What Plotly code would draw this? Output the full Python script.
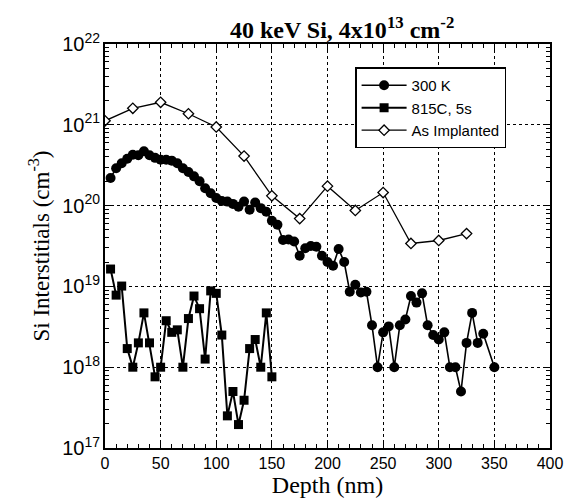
import plotly.graph_objects as go

# As Implanted (diamonds)
impl_depth = [0, 25, 50, 75, 100, 125, 150, 175, 200, 225, 250, 275, 300, 325]
impl_conc = [1.12e21, 1.6e21, 1.9e21, 1.37e21, 9.4e20, 4.1e20, 1.32e20, 6.9e19,
             1.74e20, 8.7e19, 1.45e20, 3.4e19, 3.7e19, 4.5e19]

# 300 K (circles)
k300_depth = [5, 10, 15, 20, 25, 30, 35, 40, 45, 50, 55, 60, 65, 70, 75, 80, 85, 90, 95, 100,
              105, 110, 115, 120, 125, 130, 135, 140, 145, 150, 155, 160, 165, 170, 175, 180,
              185, 190, 195, 200, 205, 210, 215, 220, 225, 230, 235, 240, 245, 250, 255, 260,
              265, 270, 275, 280, 285, 290, 295, 300, 305, 310, 315, 320, 325, 330, 335, 340, 350]
k300_conc = [2.2e20, 2.9e20, 3.35e20, 3.8e20, 4.25e20, 4.2e20, 4.7e20, 4.2e20, 3.9e20, 3.7e20,
             3.7e20, 3.6e20, 3.35e20, 2.9e20, 2.6e20, 2.3e20, 2.0e20, 1.64e20, 1.42e20, 1.24e20,
             1.14e20, 1.12e20, 1.05e20, 9.7e19, 1.12e20, 8.9e19, 1.09e20, 9.3e19, 8.4e19, 6.5e19,
             5.8e19, 3.76e19, 3.8e19, 3.6e19, 2.4e19, 2.97e19, 3.16e19, 3.1e19, 2.4e19, 2.0e19,
             1.8e19, 2.9e19, 2.0e19, 8.6e18, 1.05e19, 8.4e18, 8.6e18, 3.3e18, 1.0e18, 2.7e18,
             3.2e18, 1.0e18, 3.3e18, 3.9e18, 7.6e18, 6.3e18, 8.2e18, 3.3e18, 2.5e18, 2.2e18,
             2.7e18, 1.0e18, 1.0e18, 5.0e17, 2.0e18, 4.7e18, 2.0e18, 2.6e18, 1.0e18]

# 815C, 5s (squares)
a815_depth = [5, 10, 15, 20, 25, 30, 35, 40, 45, 50, 55, 60, 65, 70, 75, 80, 85, 90, 95, 100,
              105, 110, 115, 120, 125, 130, 135, 140, 145, 150]
a815_conc = [1.64e19, 7.8e18, 1.01e19, 1.7e18, 1.0e18, 2.0e18, 4.7e18, 2.0e18, 7.6e17, 1.0e18,
             3.76e18, 2.7e18, 2.9e18, 1.0e18, 4.0e18, 7.6e18, 5.3e18, 1.26e18, 8.8e18, 8.2e18,
             2.5e18, 2.5e17, 5.0e17, 1.95e17, 3.9e17, 1.7e18, 2.2e18, 1.0e18, 4.7e18, 7.6e17]

x_ticks = [0, 50, 100, 150, 200, 250, 300, 350, 400]

fig = go.Figure()
fig.add_trace(go.Scatter(x=k300_depth, y=k300_conc, name="300 K", mode="lines+markers",
                         line=dict(color="black", width=1.6),
                         marker=dict(symbol="circle", size=10, color="black")))
fig.add_trace(go.Scatter(x=a815_depth, y=a815_conc, name="815C, 5s", mode="lines+markers",
                         line=dict(color="black", width=2),
                         marker=dict(symbol="square", size=9, color="black")))
fig.add_trace(go.Scatter(x=impl_depth, y=impl_conc, name="As Implanted", mode="lines+markers",
                         line=dict(color="black", width=1.3),
                         marker=dict(symbol="diamond", size=8, color="white",
                                     line=dict(color="black", width=1.3))))

axis_common = dict(showline=True, linecolor="black", linewidth=1.5, mirror="allticks",
                   ticks="inside", ticklen=7, tickwidth=1.2, tickcolor="black",
                   showgrid=True, gridcolor="black", griddash="dot", gridwidth=1.3,
                   zeroline=False,
                   tickfont=dict(family="Liberation Sans, Arial", size=16, color="black"))

fig.update_xaxes(range=[0, 400], tickvals=x_ticks,
                 minor=dict(ticks="inside", ticklen=4, dtick=10, tickcolor="black", showgrid=False),
                 title=dict(text="Depth (nm)", font=dict(family="Liberation Serif, Times New Roman",
                                                         size=24, color="black"), standoff=2),
                 **axis_common)
fig.update_yaxes(type="log", range=[17, 22], dtick=1, exponentformat="power",
                 minor=dict(ticks="inside", ticklen=4, dtick="D1", tickcolor="black", showgrid=False),
                 title=dict(text="Si Interstitials (cm<sup>-3</sup>)",
                            font=dict(family="Liberation Serif, Times New Roman", size=23, color="black"),
                            standoff=6),
                 **axis_common)

fig.update_layout(
    width=575, height=502,
    margin=dict(l=105, r=25, t=44, b=54),
    paper_bgcolor="white", plot_bgcolor="white",
    title=dict(text="<b>40 keV Si, 4x10<sup>13</sup> cm<sup>-2</sup></b>",
               font=dict(family="Liberation Serif, Times New Roman", size=24, color="black"),
               x=0.595, xanchor="center", y=0.958, yanchor="top"),
    legend=dict(x=0.562, y=0.942, xanchor="left", yanchor="top",
                bgcolor="white", bordercolor="black", borderwidth=1.5,
                font=dict(family="Liberation Sans, Arial", size=15, color="black"),
                tracegroupgap=0, itemwidth=45),
    showlegend=True,
)

fig.write_html("out.html")
